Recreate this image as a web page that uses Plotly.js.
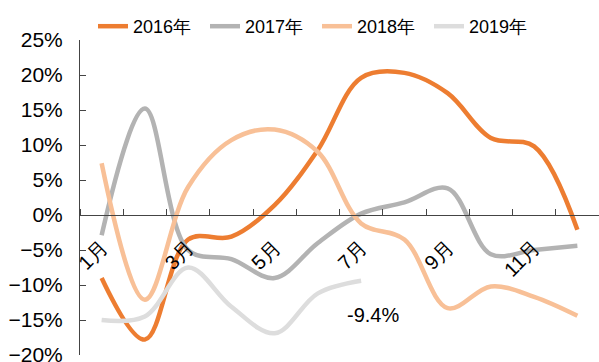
<!DOCTYPE html>
<html>
<head>
<meta charset="utf-8">
<script src="https://cdn.plot.ly/plotly-3.0.1.min.js"></script>
<style>
html,body{margin:0;padding:0;background:#fff;}
#chart{width:599px;height:362px;}
</style>
</head>
<body>
<div id="chart"></div>
<script>
// Data (year-on-year growth, %)
const months = [1,2,3,4,5,6,7,8,9,10,11,12];
const tickMonths = [1,3,5,7,9,11];
const tickLabels = ['1月','3月','5月','7月','9月','11月'];
const seriesNames = ['2016年','2017年','2018年','2019年'];
const s2016 = [-9.0,-17.8,-3.5,-3.1,1.4,9.3,19.6,20.3,17.4,11.0,9.8,-2.1];
const s2017 = [-2.9,15.2,-5.0,-6.3,-9.0,-4.0,0.2,1.8,3.8,-5.6,-5.0,-4.4];
const s2018 = [7.4,-12.1,4.0,10.7,12.2,9.0,-1.2,-3.5,-13.3,-10.2,-11.7,-14.4];
const s2019 = [-15.0,-14.5,-7.5,-13.1,-16.9,-11.2,-9.4];
const colors = ['#ED7D31','#B3B3B3','#F8C097','#DDDDDD'];

const allSeries = [s2016,s2017,s2018,s2019];
const traces = allSeries.map((s,i)=>({
  x: months.slice(0,s.length),
  y: s,
  name: seriesNames[i],
  type: 'scatter',
  mode: 'lines',
  line: {color: colors[i], width: 4.5, shape: 'spline', smoothing: 1},
  hoverinfo: 'skip'
}));

const lastIdx = s2019.length-1;
const layout = {
  width: 599, height: 362,
  margin: {l: 80, r: 0, t: 40, b: 7, autoexpand: false},
  paper_bgcolor: '#fff', plot_bgcolor: '#fff',
  font: {family: 'Liberation Sans, Arial, sans-serif', color: '#000'},
  showlegend: true,
  legend: {
    orientation: 'h', xref: 'container', yref: 'container',
    x: 93/599, y: 1-8/362, xanchor: 'left', yanchor: 'top',
    font: {size: 18, color: '#000'},
    entrywidth: 67, entrywidthmode: 'pixels',
    itemclick: false, bgcolor: 'rgba(0,0,0,0)'
  },
  xaxis: {
    range: [0.5, 12.5],
    anchor: 'free', position: 20/45,
    tickmode: 'array', tickvals: tickMonths, ticktext: tickLabels,
    tickangle: -45, ticks: '',
    tickfont: {size: 20, color: '#000'},
    ticklabelstandoff: 12,
    showline: true, linecolor: '#444', linewidth: 1,
    showgrid: false, zeroline: false,
    minor: {tickmode: 'linear', tick0: 0.5, dtick: 1, ticks: 'inside', ticklen: 6, tickcolor: '#444', tickwidth: 1, showgrid: false},
    fixedrange: true
  },
  yaxis: {
    range: [-20, 25], dtick: 5, tick0: 0,
    ticksuffix: '%',
    ticks: 'inside', ticklen: 6, tickcolor: '#444',
    tickfont: {size: 21, color: '#000'},
    ticklabelstandoff: 12,
    ticklabeloverflow: 'allow',
    showline: true, linecolor: '#444', linewidth: 1,
    showgrid: false, zeroline: false,
    fixedrange: true
  },
  annotations: [{
    x: months[lastIdx], y: s2019[lastIdx],
    xref: 'x', yref: 'y',
    text: s2019[lastIdx].toFixed(1) + '%',
    showarrow: false,
    xshift: 12, yshift: -34,
    font: {size: 20, color: '#000'}
  }]
};

Plotly.newPlot('chart', traces, layout, {staticPlot: true, displayModeBar: false});
</script>
</body>
</html>
